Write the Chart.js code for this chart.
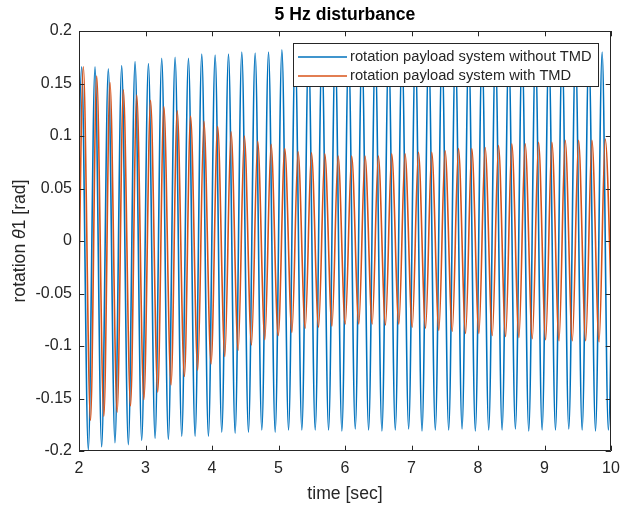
<!DOCTYPE html>
<html>
<head>
<meta charset="utf-8">
<script src="https://cdn.jsdelivr.net/npm/chart.js@4/dist/chart.umd.min.js"></script>
<style>
  html, body { margin: 0; padding: 0; background: #ffffff; }
  #wrap { width: 621px; height: 506px; }
</style>
</head>
<body>
<div id="wrap"><canvas id="chart" width="621" height="506"></canvas></div>
<script>
// Time stamps (s) of the successive extrema of each response, peaks and troughs interleaved.
const timeWithout = [
  1.939, 2.040, 2.140, 2.241, 2.341, 2.441, 2.541, 2.642, 2.742, 2.843, 2.943,
  3.044, 3.144, 3.244, 3.344, 3.445, 3.545, 3.646, 3.746, 3.846, 3.946,
  4.047, 4.147, 4.248, 4.348, 4.448, 4.548, 4.649, 4.749, 4.850, 4.950,
  5.051, 5.151, 5.251, 5.351, 5.452, 5.552, 5.653, 5.753, 5.853, 5.953,
  6.054, 6.154, 6.255, 6.355, 6.455, 6.555, 6.656, 6.756, 6.857, 6.957,
  7.058, 7.158, 7.258, 7.358, 7.459, 7.559, 7.660, 7.760, 7.860, 7.960,
  8.061, 8.161, 8.262, 8.362, 8.462, 8.562, 8.663, 8.763, 8.864, 8.964,
  9.065, 9.165, 9.265, 9.365, 9.466, 9.566, 9.667, 9.767, 9.867, 9.960,
  10.061
];
// Rotation of the payload without TMD (rad)
const rotationWithout = [
  -0.200, 0.166, -0.199, 0.166, -0.196, 0.164, -0.192, 0.167, -0.194, 0.171, -0.190,
  0.169, -0.188, 0.174, -0.189, 0.175, -0.186, 0.174, -0.186, 0.178, -0.186,
  0.177, -0.182, 0.178, -0.183, 0.180, -0.182, 0.179, -0.180, 0.180, -0.182,
  0.182, -0.180, 0.181, -0.180, 0.181, -0.180, 0.180, -0.180, 0.181, -0.181,
  0.180, -0.179, 0.181, -0.180, 0.180, -0.181, 0.181, -0.180, 0.180, -0.179,
  0.181, -0.181, 0.180, -0.180, 0.181, -0.180, 0.180, -0.179, 0.181, -0.181,
  0.180, -0.180, 0.181, -0.180, 0.180, -0.179, 0.181, -0.181, 0.180, -0.180,
  0.181, -0.180, 0.180, -0.179, 0.181, -0.180, 0.180, -0.181, 0.180, -0.180,
  0.180
];

const timeWith = [
  1.972, 2.065, 2.173, 2.266, 2.374, 2.466, 2.574, 2.667, 2.775, 2.868, 2.976,
  3.076, 3.184, 3.276, 3.384, 3.477, 3.585, 3.678, 3.786, 3.878, 3.986,
  4.085, 4.193, 4.286, 4.394, 4.486, 4.594, 4.687, 4.795, 4.888, 4.996,
  5.094, 5.202, 5.294, 5.402, 5.495, 5.603, 5.696, 5.804, 5.896, 6.004,
  6.100, 6.208, 6.301, 6.409, 6.501, 6.609, 6.702, 6.810, 6.903, 7.011,
  7.104, 7.212, 7.304, 7.412, 7.505, 7.613, 7.706, 7.814, 7.906, 8.014,
  8.107, 8.215, 8.308, 8.416, 8.508, 8.616, 8.709, 8.817, 8.910, 9.018,
  9.111, 9.219, 9.311, 9.419, 9.512, 9.620, 9.713, 9.821, 9.913, 10.021
];
// Rotation of the payload with TMD (rad)
const rotationWith = [
  -0.170, 0.166, -0.171, 0.157, -0.167, 0.151, -0.163, 0.144, -0.157, 0.139, -0.151,
  0.134, -0.144, 0.128, -0.137, 0.124, -0.129, 0.119, -0.123, 0.114, -0.117,
  0.109, -0.110, 0.104, -0.104, 0.100, -0.099, 0.095, -0.094, 0.092, -0.090,
  0.088, -0.087, 0.085, -0.083, 0.084, -0.082, 0.083, -0.081, 0.081, -0.079,
  0.081, -0.079, 0.081, -0.079, 0.081, -0.080, 0.083, -0.079, 0.083, -0.082,
  0.0845, -0.083, 0.0845, -0.085, 0.086, -0.086, 0.088, -0.088, 0.088, -0.088,
  0.089, -0.090, 0.091, -0.091, 0.0925, -0.092, 0.0925, -0.093, 0.094, -0.094,
  0.094, -0.095, 0.096, -0.095, 0.096, -0.095, 0.096, -0.096, 0.097, -0.096
];

const seriesLabels = ['rotation payload system without TMD', 'rotation payload system with TMD'];
const xTickValues = [2, 3, 4, 5, 6, 7, 8, 9, 10];
const xTickLabels = ['2', '3', '4', '5', '6', '7', '8', '9', '10'];
const yTickValues = [-0.2, -0.15, -0.1, -0.05, 0, 0.05, 0.1, 0.15, 0.2];
const yTickLabels = ['-0.2', '-0.15', '-0.1', '-0.05', '0', '0.05', '0.1', '0.15', '0.2'];

const FONT = '"Liberation Sans", Arial, Helvetica, sans-serif';
const INK = '#262626';
const BLUE = '#0072BD';
const ORANGE = '#D95319';

function toPoints(ts, vs) {
  return ts.map((t, i) => ({ x: t, y: vs[i] }));
}

// Frame, inward tick marks, title, axis labels and the boxed legend
const figureDecor = {
  id: 'figureDecor',
  afterDatasetsDraw(chart) {
    const { ctx, chartArea: a, scales } = chart;
    const xs = scales.x, ys = scales.y;
    const tick = 5.3;
    ctx.save();
    ctx.strokeStyle = INK;
    ctx.lineWidth = 1;
    ctx.beginPath();
    ctx.rect(Math.round(a.left) + 0.5, Math.round(a.top) + 0.5,
             Math.round(a.right - a.left) - 1, Math.round(a.bottom - a.top) - 1);
    ctx.stroke();
    ctx.beginPath();
    xTickValues.forEach(v => {
      const px = Math.round(xs.getPixelForValue(v)) + 0.5;
      ctx.moveTo(px, a.bottom); ctx.lineTo(px, a.bottom - tick);
      ctx.moveTo(px, a.top); ctx.lineTo(px, a.top + tick);
    });
    yTickValues.forEach(v => {
      const py = Math.round(ys.getPixelForValue(v)) + 0.5;
      ctx.moveTo(a.left, py); ctx.lineTo(a.left + tick, py);
      ctx.moveTo(a.right, py); ctx.lineTo(a.right - tick, py);
    });
    ctx.stroke();

    // title
    ctx.fillStyle = '#000000';
    ctx.font = 'bold 17.6px ' + FONT;
    ctx.textAlign = 'center';
    ctx.textBaseline = 'middle';
    ctx.fillText('5 Hz disturbance', (a.left + a.right) / 2, 15);

    // x label
    ctx.fillStyle = INK;
    ctx.font = '17.6px ' + FONT;
    ctx.fillText('time [sec]', (a.left + a.right) / 2, 494);

    // y label with italic theta
    ctx.save();
    ctx.translate(20, (a.top + a.bottom) / 2);
    ctx.rotate(-Math.PI / 2);
    const parts = [
      { t: 'rotation ', f: '17.6px ' + FONT },
      { t: 'θ', f: 'italic 17.6px ' + FONT },
      { t: '1 [rad]', f: '17.6px ' + FONT }
    ];
    let total = 0;
    parts.forEach(p => { ctx.font = p.f; p.w = ctx.measureText(p.t).width; total += p.w; });
    let cx = -total / 2;
    ctx.textAlign = 'left';
    parts.forEach(p => { ctx.font = p.f; ctx.fillText(p.t, cx, 0); cx += p.w; });
    ctx.restore();

    // legend
    const lx = 293, ly = 43, lw = 305, lh = 43;
    ctx.fillStyle = '#ffffff';
    ctx.fillRect(lx, ly, lw, lh);
    ctx.strokeStyle = INK;
    ctx.lineWidth = 1;
    ctx.strokeRect(lx + 0.5, ly + 0.5, lw, lh);
    ctx.font = '14.7px ' + FONT;
    ctx.textAlign = 'left';
    ctx.textBaseline = 'middle';
    const rows = [57, 76];
    chart.data.datasets.forEach((ds, i) => {
      ctx.strokeStyle = ds.borderColor;
      ctx.lineWidth = 1.3;
      ctx.beginPath();
      ctx.moveTo(298, rows[i]); ctx.lineTo(347, rows[i]);
      ctx.stroke();
      ctx.fillStyle = INK;
      ctx.fillText(ds.label, 350, rows[i]);
    });
    ctx.restore();
  }
};

new Chart(document.getElementById('chart'), {
  type: 'line',
  data: {
    datasets: [
      {
        label: seriesLabels[0],
        data: toPoints(timeWithout, rotationWithout),
        borderColor: BLUE,
        borderWidth: 1.6,
        pointRadius: 0,
        cubicInterpolationMode: 'monotone',
        order: 1
      },
      {
        label: seriesLabels[1],
        data: toPoints(timeWith, rotationWith),
        borderColor: ORANGE,
        borderWidth: 1.6,
        pointRadius: 0,
        cubicInterpolationMode: 'monotone',
        order: 0
      }
    ]
  },
  options: {
    responsive: false,
    animation: false,
    devicePixelRatio: 1,
    layout: { autoPadding: false, padding: { top: 31, right: 10, left: 0, bottom: 0 } },
    plugins: {
      legend: { display: false },
      title: { display: false },
      tooltip: { enabled: false }
    },
    scales: {
      x: {
        type: 'linear',
        min: 2, max: 10,
        grid: { display: false, drawTicks: false },
        border: { display: false },
        afterBuildTicks: s => { s.ticks = xTickValues.map(v => ({ value: v })); },
        afterFit: s => { s.height = 55; s.paddingLeft = 0; s.paddingRight = 0; },
        ticks: {
          padding: 8,
          color: INK,
          font: { family: FONT, size: 16 },
          maxRotation: 0,
          callback: (v, i) => xTickLabels[i]
        }
      },
      y: {
        type: 'linear',
        min: -0.2, max: 0.2,
        grid: { display: false, drawTicks: false },
        border: { display: false },
        afterBuildTicks: s => { s.ticks = yTickValues.map(v => ({ value: v })); },
        afterFit: s => { s.width = 79; s.paddingTop = 0; s.paddingBottom = 0; },
        ticks: {
          padding: 7,
          color: INK,
          font: { family: FONT, size: 16 },
          callback: (v, i) => yTickLabels[i]
        }
      }
    }
  },
  plugins: [figureDecor]
});
</script>
</body>
</html>
